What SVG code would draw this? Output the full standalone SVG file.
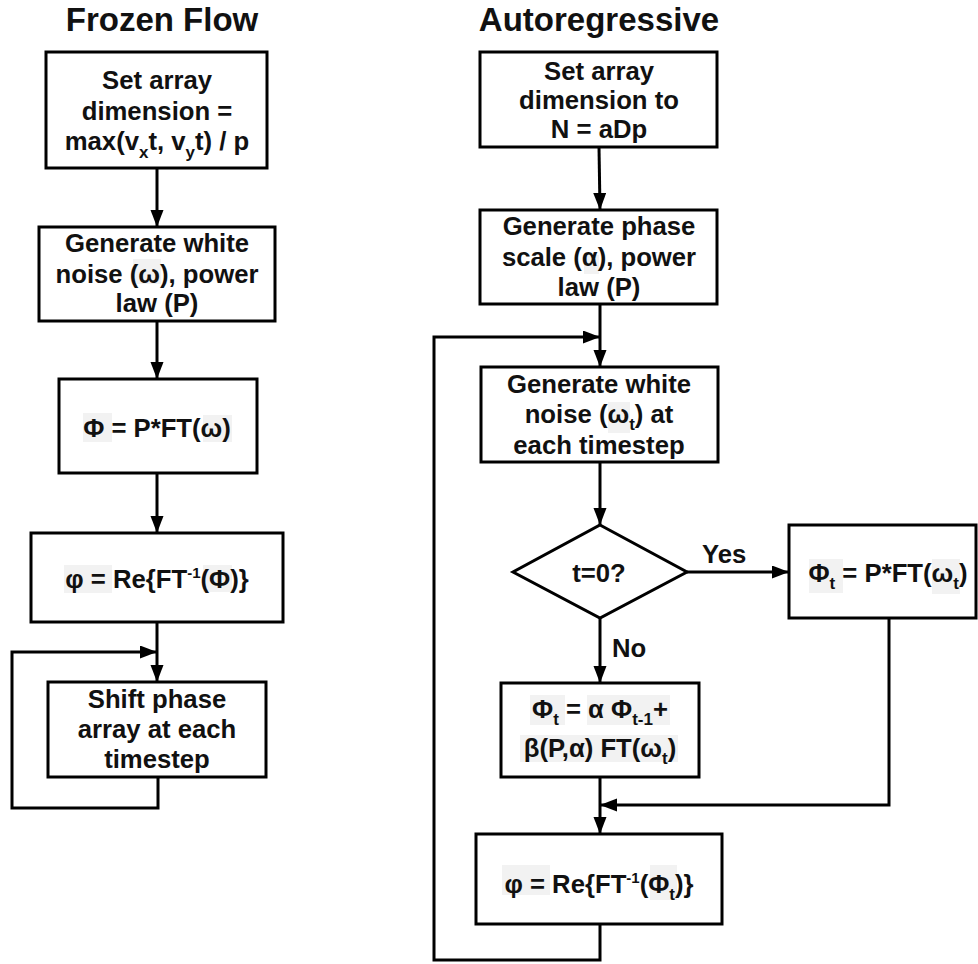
<svg xmlns="http://www.w3.org/2000/svg" width="978" height="964" viewBox="0 0 978 964">
<style>
  .box { fill: #ffffff; stroke: #000; stroke-width: 3; }
  .t { font-family: "Liberation Sans", Arial, sans-serif; font-weight: bold; font-size: 25.7px; fill: #111; text-anchor: middle; }
  .title { font-family: "Liberation Sans", Arial, sans-serif; font-weight: bold; font-size: 33px; fill: #111; text-anchor: middle; }
  .lbl { font-family: "Liberation Sans", Arial, sans-serif; font-weight: bold; font-size: 25.7px; fill: #111; }
  .sub { font-size: 17px; }
  .sup { font-size: 15px; }
  .c { fill: none; stroke: #000; stroke-width: 3; }
  .hl { fill: #f2f2f2; stroke: none; }
</style>
<defs>
  <marker id="arr" markerUnits="userSpaceOnUse" markerWidth="18" markerHeight="14" refX="17" refY="6.5" orient="auto">
    <path d="M0,0 L17,6.5 L0,13 z" fill="#000"/>
  </marker>
</defs>
<rect width="978" height="964" fill="#fff"/>

<text class="title" x="162" y="31">Frozen Flow</text>
<text class="title" x="599" y="31">Autoregressive</text>

<g id="connectors">
  <line class="c" x1="157" y1="169" x2="157" y2="227" marker-end="url(#arr)"/>
  <line class="c" x1="157" y1="321" x2="157" y2="379" marker-end="url(#arr)"/>
  <line class="c" x1="157" y1="473" x2="157" y2="533" marker-end="url(#arr)"/>
  <line class="c" x1="157" y1="622" x2="157" y2="682" marker-end="url(#arr)"/>
  <polyline class="c" points="158,777 158,808 12,808 12,652 157,652" marker-end="url(#arr)"/>

  <line class="c" x1="599" y1="147" x2="600" y2="210" marker-end="url(#arr)"/>
  <line class="c" x1="600" y1="304" x2="600" y2="367" marker-end="url(#arr)"/>
  <polyline class="c" points="600,924 600,960 434,960 434,337 600,337" marker-end="url(#arr)"/>
  <line class="c" x1="600" y1="462" x2="600" y2="525" marker-end="url(#arr)"/>
  <line class="c" x1="687" y1="572" x2="789" y2="572" marker-end="url(#arr)"/>
  <line class="c" x1="600" y1="618" x2="600" y2="683" marker-end="url(#arr)"/>
  <polyline class="c" points="889,618 889,805 600,805" marker-end="url(#arr)"/>
  <line class="c" x1="600" y1="777" x2="600" y2="834" marker-end="url(#arr)"/>
  <text class="lbl" x="702" y="563">Yes</text>
  <text class="lbl" x="612" y="657">No</text>
</g>

<g id="ff1">
  <rect class="box" x="46" y="52" width="221" height="116"/>
  <text class="t" x="157" y="89">Set array</text>
  <text class="t" x="157" y="120">dimension =</text>
  <text class="t" x="157" y="150">max(v<tspan class="sub" dy="8">x</tspan><tspan dy="-8">t, v</tspan><tspan class="sub" dy="8">y</tspan><tspan dy="-8">t) / p</tspan></text>
</g>
<g id="ff2">
  <rect class="box" x="39" y="227" width="236" height="94"/>
  <rect class="hl" x="133" y="259" width="28" height="25"/>
  <text class="t" x="157" y="252">Generate white</text>
  <text class="t" x="157" y="283">noise (ω), power</text>
  <text class="t" x="157" y="312">law (P)</text>
</g>
<g id="ff3">
  <rect class="box" x="59" y="379" width="198" height="94"/>
  <rect class="hl" x="83" y="413" width="29" height="29"/>
  <rect class="hl" x="203" y="415" width="29" height="27"/>
  <text class="t" x="157" y="437">Φ = P*FT(ω)</text>
</g>
<g id="ff4">
  <rect class="box" x="31" y="533" width="252" height="89"/>
  <rect class="hl" x="64" y="565" width="48" height="28"/>
  <rect class="hl" x="203" y="565" width="29" height="27"/>
  <text class="t" x="157" y="588">φ = Re{FT<tspan class="sup" dy="-10">-1</tspan><tspan dy="10">(Φ)}</tspan></text>
</g>
<g id="ff5">
  <rect class="box" x="48" y="682" width="218" height="95"/>
  <text class="t" x="157" y="708">Shift phase</text>
  <text class="t" x="157" y="738">array at each</text>
  <text class="t" x="157" y="768">timestep</text>
</g>

<g id="ar1">
  <rect class="box" x="480" y="52" width="237" height="95"/>
  <text class="t" x="599" y="80">Set array</text>
  <text class="t" x="599" y="109">dimension to</text>
  <text class="t" x="599" y="138">N = aDp</text>
</g>
<g id="ar2">
  <rect class="box" x="480" y="210" width="237" height="94"/>
  <rect class="hl" x="584" y="255" width="15" height="19"/>
  <text class="t" x="599" y="235">Generate phase</text>
  <text class="t" x="599" y="266">scale (α), power</text>
  <text class="t" x="599" y="296">law (P)</text>
</g>
<g id="ar3">
  <rect class="box" x="481" y="367" width="237" height="95"/>
  <rect class="hl" x="608" y="402" width="22" height="31"/>
  <text class="t" x="599" y="393">Generate white</text>
  <text class="t" x="599" y="423">noise (ω<tspan class="sub" dy="7">t</tspan><tspan dy="-7">) at</tspan></text>
  <text class="t" x="599" y="454">each timestep</text>
</g>
<g id="decision">
  <polygon class="box" points="600,525 687,572 600,618 513,572"/>
  <text class="t" x="599" y="582">t=0?</text>
</g>
<g id="yesbox">
  <rect class="box" x="789" y="525" width="187" height="93"/>
  <rect class="hl" x="809" y="559" width="34" height="34"/>
  <rect class="hl" x="932" y="559" width="28" height="35"/>
  <text class="t" x="888" y="582">Φ<tspan class="sub" dy="7">t</tspan><tspan dy="-7"> = P*FT(ω</tspan><tspan class="sub" dy="7">t</tspan><tspan dy="-7">)</tspan></text>
</g>
<g id="nobox">
  <rect class="box" x="501" y="683" width="198" height="94"/>
  <rect class="hl" x="530" y="695" width="35" height="30"/>
  <rect class="hl" x="587" y="695" width="83" height="30"/>
  <rect class="hl" x="520" y="735" width="158" height="27"/>
  <text class="t" x="600" y="718">Φ<tspan class="sub" dy="7">t</tspan><tspan dy="-7"> = α Φ</tspan><tspan class="sub" dy="7">t-1</tspan><tspan dy="-7">+</tspan></text>
  <text class="t" x="600" y="757">β(P,α) FT(ω<tspan class="sub" dy="7">t</tspan><tspan dy="-7">)</tspan></text>
</g>
<g id="ar4">
  <rect class="box" x="476" y="834" width="246" height="90"/>
  <rect class="hl" x="502" y="865" width="48" height="30"/>
  <rect class="hl" x="650" y="865" width="27" height="35"/>
  <text class="t" x="599" y="893">φ = Re{FT<tspan class="sup" dy="-10">-1</tspan><tspan dy="10">(Φ</tspan><tspan class="sub" dy="7">t</tspan><tspan dy="-7">)}</tspan></text>
</g>
</svg>
